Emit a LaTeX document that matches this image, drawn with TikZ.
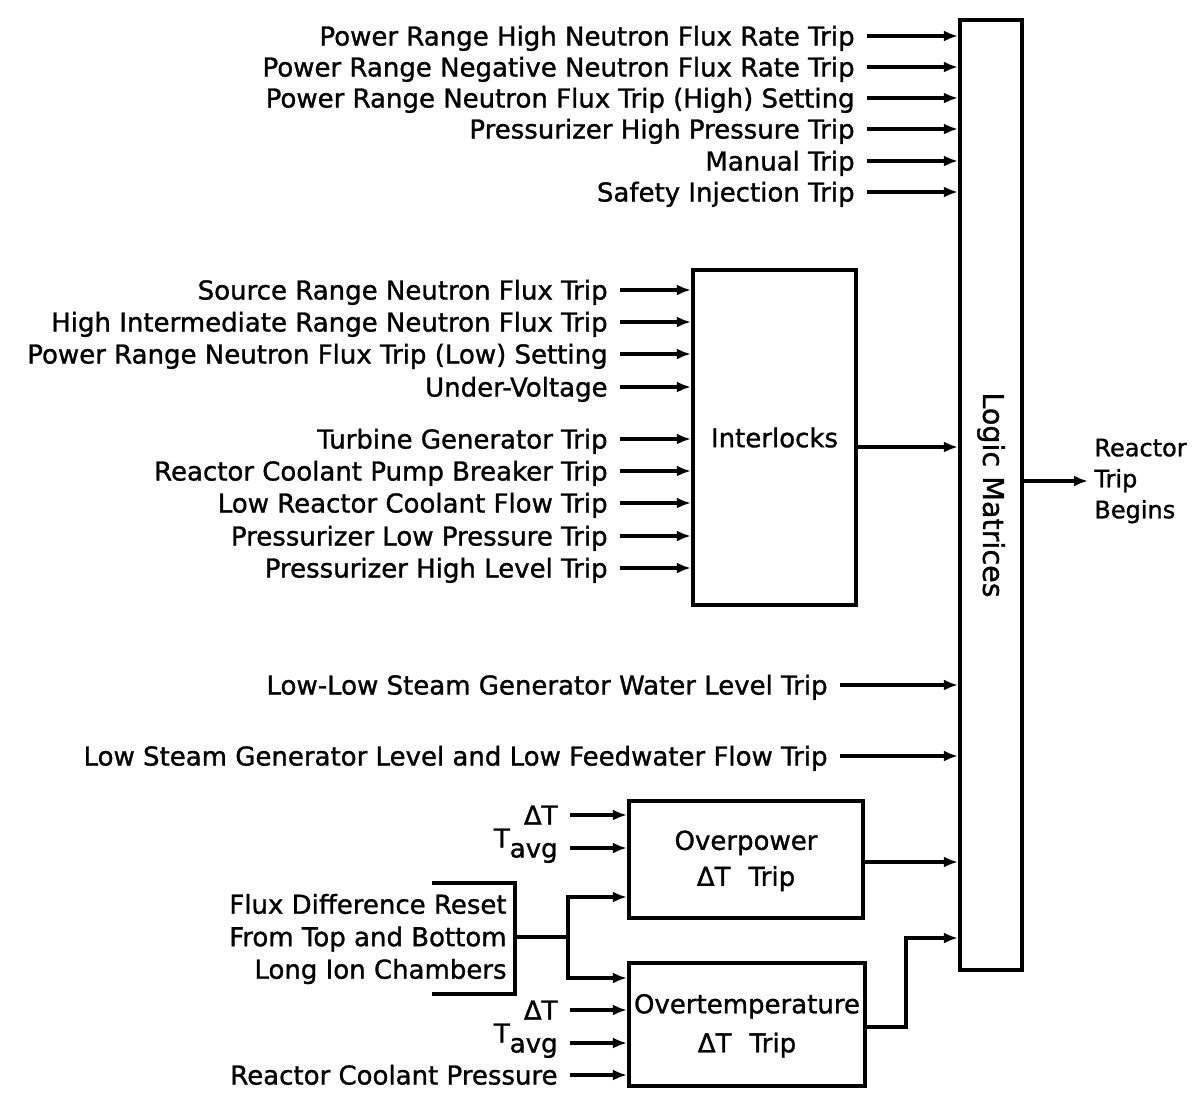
\documentclass[tikz,border=0pt]{standalone}
\usepackage{fontspec}
\setmainfont{DejaVu Sans}
\newfontfamily\heavy[FakeBold=1.2]{DejaVu Sans}
\usetikzlibrary{arrows.meta}
\begin{document}
\begin{tikzpicture}[x=0.5pt,y=-0.5pt,
  font=\heavy\fontsize{13}{16}\selectfont\addfontfeature{FakeBold=1.2},
  lbl/.style={anchor=east,inner sep=0pt,text height=9.5pt,text depth=0pt},
  arr/.style={line width=1.8pt,-{Latex[length=7pt,width=5.5pt]}},
  wire/.style={line width=1.8pt},
  box/.style={draw,line width=2.1pt,inner sep=0pt,align=center}]
\useasboundingbox (0,0) rectangle (1194,1094);

% main blocks
\node[box,minimum width=31pt,minimum height=475pt] (logic) at (991,495) {};
\node[rotate=-90,font=\heavy\fontsize{14.3}{16}\selectfont\addfontfeature{FakeBold=1.2}] (lmtxt) at (logic.center) {Logic Matrices};
\node[box,minimum width=81.5pt,minimum height=167.5pt] (inter) at (774.5,437.5) {Interlocks};
\node[box,minimum width=117pt,minimum height=58.5pt] (op) at (746,859.5) {\rule{0pt}{11pt}Overpower\\[2pt]ΔT\hspace{0.7em}Trip};
\node[box,minimum width=118pt,minimum height=61.5pt] (ot) at (747,1024.5) {\rule{0pt}{11pt}Overtemperature\\[3.5pt]ΔT\hspace{0.7em}Trip};

% output
\node[anchor=west,align=left,inner sep=0pt,font=\heavy\fontsize{12}{15.5}\selectfont\addfontfeature{FakeBold=1.2}] (out) at (1094,481) {Reactor\\Trip\\Begins};
\draw[arr] (logic.east |- out.west) -- ([xshift=-3pt]out.west);

% direct inputs to logic matrices
\foreach \n/\y/\t in {
  a1/36/{Power Range High Neutron Flux Rate Trip},
  a2/67/{Power Range Negative Neutron Flux Rate Trip},
  a3/98/{Power Range Neutron Flux Trip (High) Setting},
  a4/129/{Pressurizer High Pressure Trip},
  a5/161/{Manual Trip},
  a6/192/{Safety Injection Trip}} {
  \node[lbl] (\n) at (855,\y) {\t};
  \draw[arr] ([xshift=6pt]\n.east) -- (\n.east -| logic.west);
}
\foreach \n/\y/\t in {
  c1/685/{Low-Low Steam Generator Water Level Trip},
  c2/756/{Low Steam Generator Level and Low Feedwater Flow Trip}} {
  \node[lbl] (\n) at (828,\y) {\t};
  \draw[arr] ([xshift=6pt]\n.east) -- (\n.east -| logic.west);
}

% inputs to interlocks
\foreach \n/\y/\t in {
  b1/290/{Source Range Neutron Flux Trip},
  b2/322/{High Intermediate Range Neutron Flux Trip},
  b3/354/{Power Range Neutron Flux Trip (Low) Setting},
  b4/387/{Under-Voltage},
  b5/439/{Turbine Generator Trip},
  b6/471/{Reactor Coolant Pump Breaker Trip},
  b7/503/{Low Reactor Coolant Flow Trip},
  b8/536/{Pressurizer Low Pressure Trip},
  b9/568/{Pressurizer High Level Trip}} {
  \node[lbl] (\n) at (608,\y) {\t};
  \draw[arr] ([xshift=6pt]\n.east) -- (\n.east -| inter.west);
}
\draw[arr] (inter.east |- 0,447) -- (logic.west |- 0,447);

% inputs to overpower / overtemperature
\node[lbl] (d1) at (558,815) {ΔT};
\node[lbl] (d2) at (558,848) {\raisebox{5pt}{T}avg};
\draw[arr] ([xshift=6pt]d1.east) -- (d1.east -| op.west);
\draw[arr] ([xshift=6pt]d2.east) -- (d2.east -| op.west);
\node[lbl] (e1) at (558,1010) {ΔT};
\node[lbl] (e2) at (558,1043) {\raisebox{5pt}{T}avg};
\node[lbl] (e3) at (558,1075) {Reactor Coolant Pressure};
\foreach \n in {e1,e2,e3} {
  \draw[arr] ([xshift=6pt]\n.east) -- (\n.east -| ot.west);
}

% flux difference bracket
\node[anchor=east,align=right,inner sep=0pt,font=\heavy\fontsize{13}{16.25}\selectfont\addfontfeature{FakeBold=1.2}] (flux) at (507,939) {Flux Difference Reset\\From Top and Bottom\\Long Ion Chambers};
\draw[wire] (432,883) -- (515,883) -- (515,994) -- (432,994);
\coordinate (bj) at (515,937);
\coordinate (fork) at (568,937);
\draw[wire] (bj) -- (fork);
\draw[arr] (fork) |- (op.west |- 0,897);
\draw[arr] (fork) |- (ot.west |- 0,978);

% outputs to logic matrices
\draw[arr] (op.east |- 0,862) -- (logic.west |- 0,862);
\draw[arr] (ot.east |- 0,1027) -| (906,938) -- (logic.west |- 0,938);
\end{tikzpicture}
\end{document}
